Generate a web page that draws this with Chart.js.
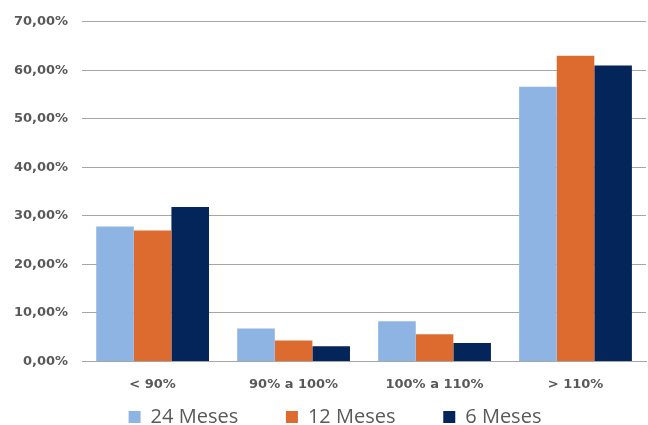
<!DOCTYPE html>
<html>
<head>
<meta charset="utf-8">
<script src="https://cdn.jsdelivr.net/npm/chart.js@4/dist/chart.umd.min.js"></script>
<style>
  html, body { margin: 0; padding: 0; background: #fff; }
  #wrap { width: 648px; height: 425px; }
</style>
</head>
<body>
<div id="wrap"><canvas id="chart"></canvas></div>
<script>
/* ── Data ─────────────────────────────────────────────── */
const categories = ['< 90%', '90% a 100%', '100% a 110%', '> 110%'];
const seriesNames = ['24 Meses', '12 Meses', '6 Meses'];
const meses24 = [0.278, 0.068, 0.083, 0.566];
const meses12 = [0.270, 0.043, 0.056, 0.630];
const meses6 = [0.318, 0.031, 0.038, 0.610];
const colors = ['#8eb4e3', '#dd6b2f', '#03255a'];

const fmtPct = v => (v * 100).toFixed(2).replace('.', ',') + '%';
const gap = '         '; // extra space between legend items

// legend sits tighter to the bottom edge and a bit right in the original
const legendTweak = {
  id: 'legendTweak',
  beforeUpdate(chart) {
    const lg = chart.legend;
    if (lg && !lg._patched) {
      const fit = lg.fit;
      lg.fit = function () {
        fit.call(this);
        this.height -= 5;
      };
      lg._patched = true;
    }
  },
  afterLayout(chart) {
    const lg = chart.legend;
    lg.left += 12;
    lg.right += 12;
    lg.top += 7;
    lg.bottom += 7;
  },
};

new Chart(document.getElementById('chart'), {
  type: 'bar',
  data: {
    labels: categories,
    datasets: [meses24, meses12, meses6].map((d, i) => ({
      label: seriesNames[i],
      data: d,
      backgroundColor: colors[i],
      borderWidth: 0,
      categoryPercentage: 0.8,
      barPercentage: 1.0,
    })),
  },
  options: {
    responsive: true,
    maintainAspectRatio: false,
    animation: false,
    layout: { padding: { left: 0, right: 2, top: 14, bottom: 0 } },
    plugins: {
      legend: {
        position: 'bottom',
        labels: {
          color: '#595959',
          font: { family: 'Open Sans', size: 20 },
          boxWidth: 12,
          boxHeight: 12,
          padding: 1,
          generateLabels: chart => {
            const items = Chart.defaults.plugins.legend.labels.generateLabels(chart);
            items.forEach((it, i) => {
              if (i < items.length - 1) it.text = it.text + gap;
            });
            return items;
          },
        },
      },
      tooltip: { enabled: false },
    },
    scales: {
      x: {
        grid: { display: false },
        border: { color: '#a6a6a6', width: 1 },
        ticks: {
          color: '#595959',
          font: { family: 'DejaVu Sans', size: 13, weight: 'bold' },
          padding: 7,
        },
      },
      y: {
        min: 0,
        max: 0.7,
        grid: { color: '#a6a6a6', drawTicks: false },
        border: { display: false },
        ticks: {
          stepSize: 0.1,
          color: '#595959',
          font: { family: 'DejaVu Sans', size: 13, weight: 'bold' },
          padding: 14,
          callback: v => fmtPct(v),
        },
      },
    },
  },
  plugins: [legendTweak],
});
</script>
</body>
</html>
